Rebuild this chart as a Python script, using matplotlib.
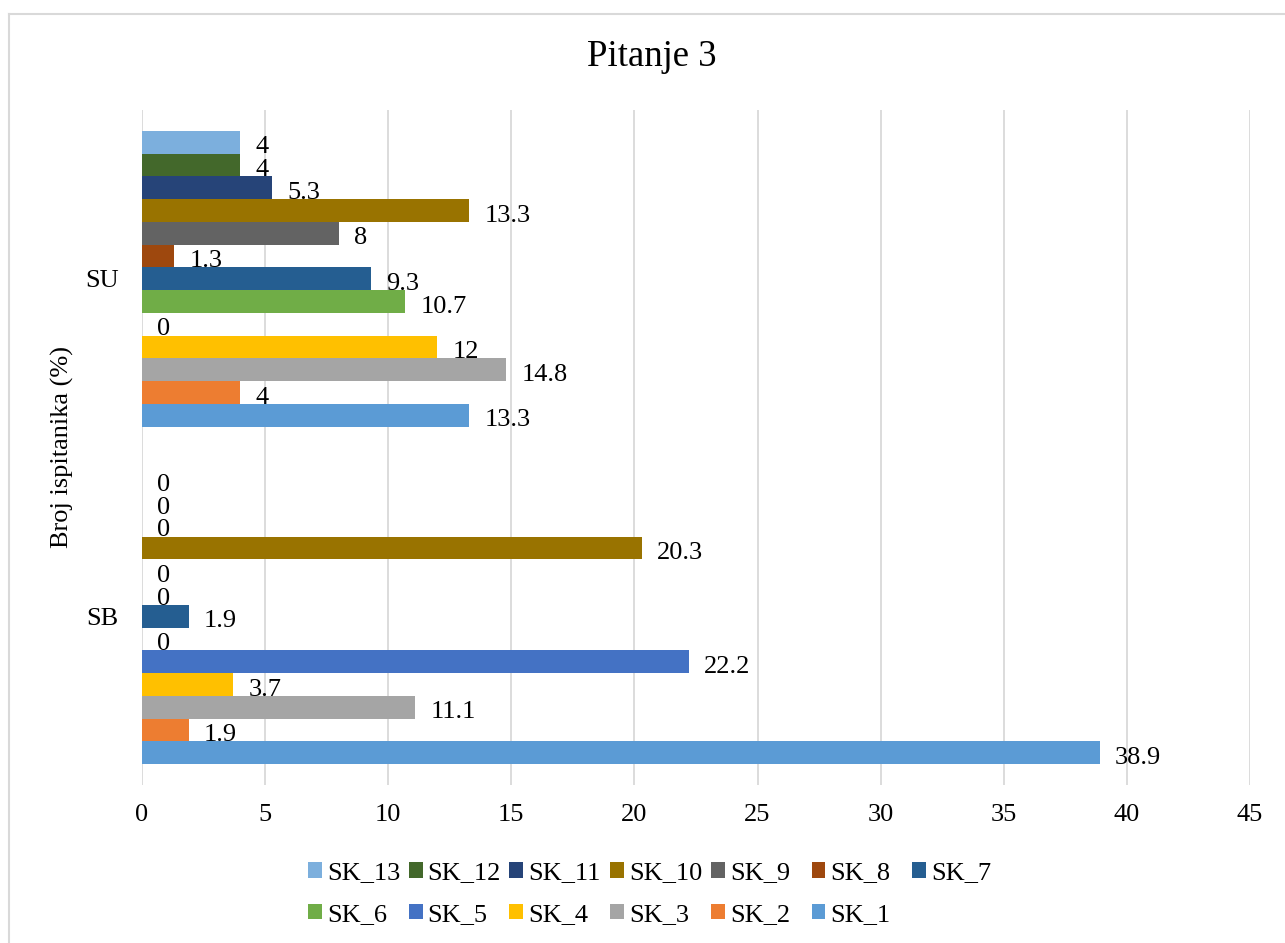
import matplotlib
matplotlib.use("Agg")
import matplotlib.pyplot as plt
from matplotlib.patches import Patch
from matplotlib.lines import Line2D

categories = ["SB", "SU"]
series = ["SK_1", "SK_2", "SK_3", "SK_4", "SK_5", "SK_6", "SK_7",
          "SK_8", "SK_9", "SK_10", "SK_11", "SK_12", "SK_13"]
sb_values = [38.9, 1.9, 11.1, 3.7, 22.2, 0, 1.9, 0, 0, 20.3, 0, 0, 0]
su_values = [13.3, 4, 14.8, 12, 0, 10.7, 9.3, 1.3, 8, 13.3, 5.3, 4, 4]
colors = ["#5B9BD5", "#ED7D31", "#A5A5A5", "#FFC000", "#4472C4", "#70AD47",
          "#255E91", "#9E480E", "#636363", "#997300", "#264478", "#43682B",
          "#7CAFDD"]
xticks = [0, 5, 10, 15, 20, 25, 30, 35, 40, 45]
title = "Pitanje 3"
ylabel = "Broj ispitanika (%)"

plt.rcParams["font.family"] = ["Liberation Serif", "DejaVu Serif"]
W, H = 1285, 943
fig = plt.figure(figsize=(W / 100, H / 100), dpi=100)
fs = 19

ax = fig.add_axes([142 / W, (H - 785) / H, 1108 / W, 675 / H])
values = [sb_values, su_values]
n = len(series)
h = 0.0674
for i, name in enumerate(series):
    ys = [c + (i - (n - 1) / 2) * h for c in range(len(categories))]
    vals = [values[c][i] for c in range(len(categories))]
    ax.barh(ys, vals, height=h, color=colors[i], label=name, zorder=2)
    for y, v in zip(ys, vals):
        ax.annotate(f"{v:g}", xy=(v, y), xytext=(11, -8),
                    textcoords="offset points", ha="left", va="baseline",
                    fontsize=fs, color="black", zorder=3)

ax.set_xlim(0, 45)
ax.set_ylim(-0.5, 1.5)
ax.set_xticks(xticks)
ax.set_xticklabels([str(t) for t in xticks], fontsize=fs)
ax.set_yticks(range(len(categories)))
ax.set_yticklabels(categories, fontsize=fs)
ax.tick_params(axis="x", length=0, pad=14)
ax.tick_params(axis="y", length=0, pad=17)
ax.grid(axis="x", color="#D9D9D9", linewidth=1.3, zorder=0)
ax.set_axisbelow(True)
for s in ax.spines.values():
    s.set_visible(False)

fig.text(652 / W, (H - 57) / H, title, fontsize=26.5, ha="center", va="center")
fig.text(62 / W, (H - 447) / H, ylabel, fontsize=fs, rotation=90,
         ha="center", va="center")

# legend: 7 columns, uniform spacing like the reference
row1 = series[::-1][:7]   # SK_13 .. SK_7
row2 = series[::-1][7:]   # SK_6 .. SK_1
cmap = dict(zip(series, colors))
for k in range(7):
    names = [row1[k]] + ([row2[k]] if k < len(row2) else [])
    handles = [Patch(facecolor=cmap[nm], edgecolor="none") for nm in names]
    fig.legend(handles, names, loc="upper left",
               bbox_to_anchor=((308 + k * 100.7) / W, (H - 862) / H),
               frameon=False, fontsize=fs, borderpad=0, borderaxespad=0,
               handlelength=0.53, handleheight=0.53, handletextpad=0.19,
               labelspacing=0.74)

# light border (top and left visible in reference)
fig.add_artist(Line2D([9 / W, 9 / W], [0, (H - 14) / H], color="#D9D9D9",
                      linewidth=1.5, transform=fig.transFigure))
fig.add_artist(Line2D([9 / W, 1], [(H - 14) / H, (H - 14) / H],
                      color="#D9D9D9", linewidth=1.5,
                      transform=fig.transFigure))

fig.savefig("out.png", dpi=100)
